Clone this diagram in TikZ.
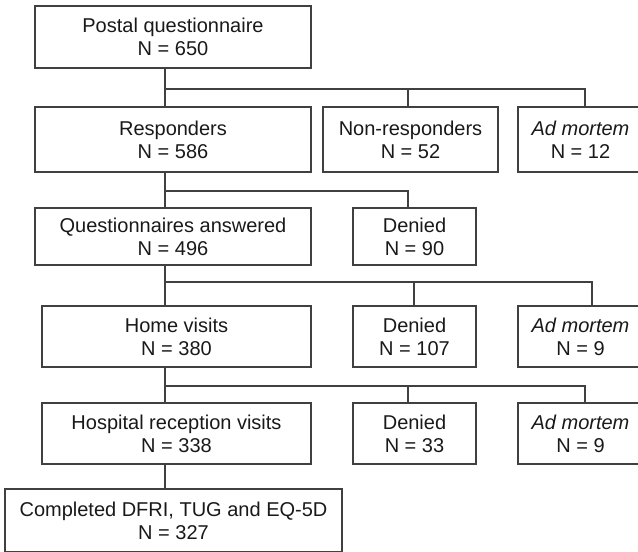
\documentclass[tikz,border=0pt]{standalone}
\usepackage{fontspec}
\setmainfont{Liberation Sans}
\definecolor{framegray}{gray}{0.25}
\begin{document}
\begin{tikzpicture}[x=0.5pt,y=-0.5pt,
    box/.style={draw=framegray,line width=0.85pt,align=center,inner sep=0pt,
      text=black!90,font=\fontsize{10}{11.5}\selectfont},
    wide/.style={box,minimum width=138pt},
    mid/.style={box,minimum width=61.5pt},
    side/.style={box,minimum width=62.5pt}]
  \clip (0,0) rectangle (638,552);
  \draw
    (173,37) node[wide,minimum height=31pt] (postal){Postal questionnaire\\N = 650}
    (173,139.5) node[wide,minimum height=32.5pt] (resp){Responders\\N = 586}
    (410.5,139.5) node[box,minimum width=87.5pt,minimum height=32.5pt] (nonresp){Non-responders\\N = 52}
    (580.5,139.5) node[side,minimum height=32.5pt] (dead1){\textit{Ad mortem}\\N = 12}
    (173,236.5) node[wide,minimum height=28.5pt] (answered){Questionnaires answered\\N = 496}
    (414.5,236.5) node[mid,minimum height=28.5pt] (denied1){Denied\\N = 90}
    (176.5,336.5) node[box,minimum width=134.5pt,minimum height=30.5pt] (home){Home visits\\N = 380}
    (414.5,336.5) node[mid,minimum height=30.5pt] (denied2){Denied\\N = 107}
    (580.5,336.5) node[side,minimum height=30.5pt] (dead2){\textit{Ad mortem}\\N = 9}
    (176.5,433.5) node[box,minimum width=134.5pt,minimum height=30.5pt] (hospital){Hospital reception visits\\N = 338}
    (414.5,433.5) node[mid,minimum height=30.5pt] (denied3){Denied\\N = 33}
    (580.5,433.5) node[side,minimum height=30.5pt] (dead3){\textit{Ad mortem}\\N = 9}
    (173.5,520.5) node[box,minimum width=168.5pt,minimum height=31.5pt] (completed){Completed DFRI, TUG and EQ-5D\\N = 327};
  \coordinate (j1) at (165,89);
  \coordinate (j2) at (165,191);
  \coordinate (j3) at (165,282);
  \coordinate (j4) at (165,386);
  \begin{scope}[draw=framegray,line width=0.85pt]
    \draw (postal.south -| j1) -- (resp.north -| j1);
    \draw (j1) -| ([xshift=-1.25pt]nonresp.north);
    \draw (j1) -| ([xshift=2.25pt]dead1.north);
    \draw (resp.south -| j2) -- (answered.north -| j2);
    \draw (j2) -| ([xshift=-3.25pt]denied1.north);
    \draw (answered.south -| j3) -- (home.north -| j3);
    \draw (j3) -| ([xshift=-0.25pt]denied2.north);
    \draw (j3) -| ([xshift=5.75pt]dead2.north);
    \draw (home.south -| j4) -- (hospital.north -| j4);
    \draw (j4) -| ([xshift=-3.25pt]denied3.north);
    \draw (j4) -| ([xshift=2.25pt]dead3.north);
    \draw (hospital.south -| j4) -- (completed.north -| j4);
  \end{scope}
\end{tikzpicture}
\end{document}
